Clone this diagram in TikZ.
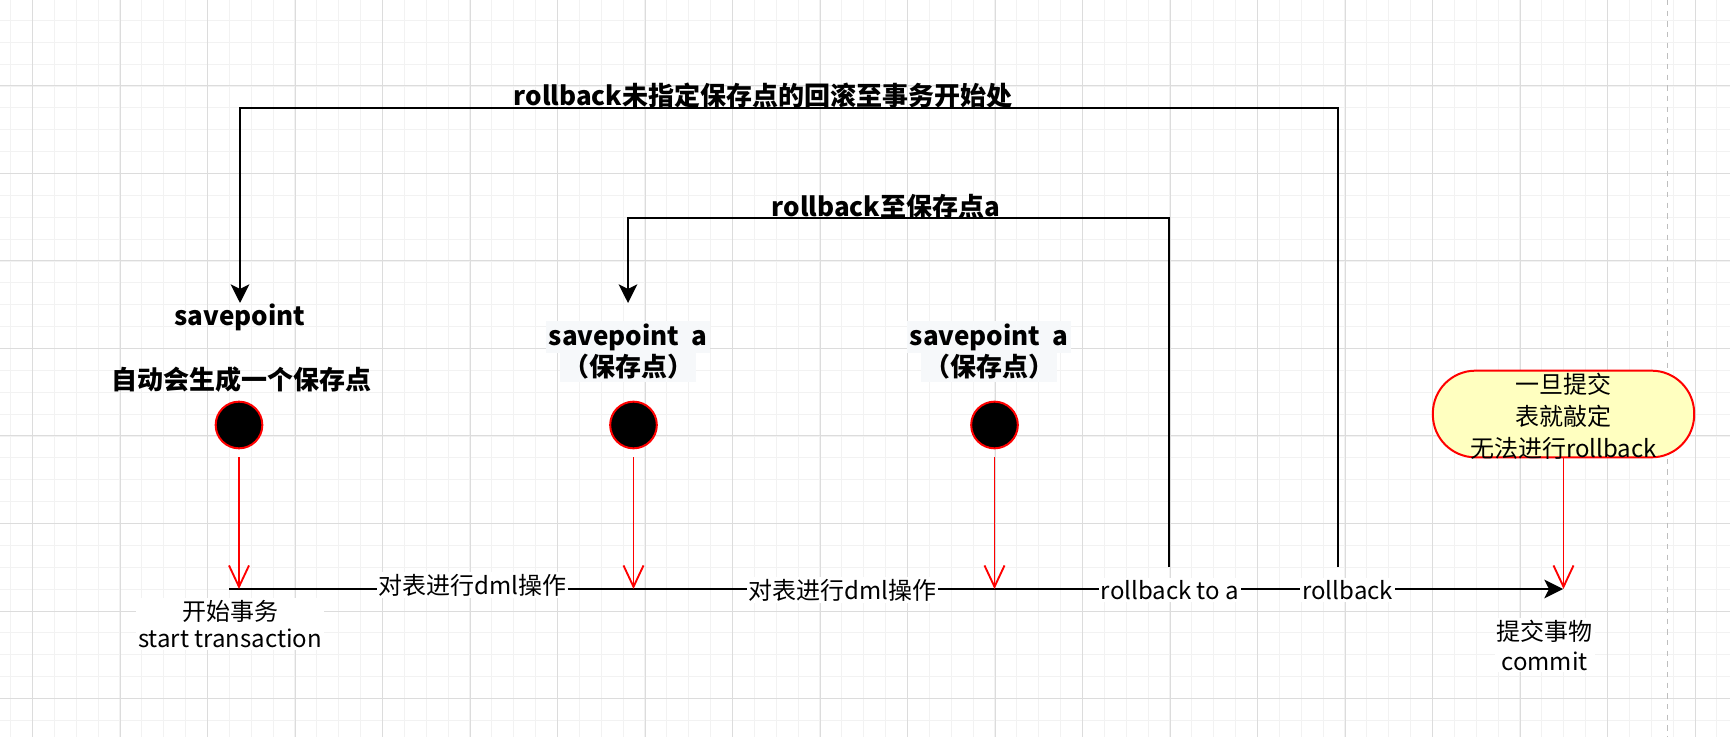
\documentclass[tikz,border=0pt]{standalone}
\usepackage{fontspec}
\setmainfont{Noto Sans CJK SC}
\usetikzlibrary{arrows.meta,calc}
\definecolor{gridmajor}{RGB}{220,220,220}
\definecolor{gridminor}{RGB}{242,242,242}
\definecolor{notefill}{RGB}{255,255,192}
\definecolor{labelbg}{RGB}{246,248,250}
\definecolor{pagedash}{RGB}{190,190,190}
\begin{document}
\begin{tikzpicture}[x=0.75pt,y=-0.75pt,
  dot/.style={circle, fill=black, draw=red, line width=1.5pt, minimum size=35pt, inner sep=0pt},
  note/.style={draw=red, fill=notefill, line width=1.5pt, rounded corners=32pt, minimum width=196pt, minimum height=65pt, inner sep=0pt},
  notetext/.style={align=center, inner sep=0pt, font=\fontsize{18}{24}\selectfont},
  flow/.style={draw=black, line width=1.5pt},
  blackhead/.style={-{Stealth[length=14pt,width=14pt,inset=3.5pt]}},
  redarrow/.style={draw=red, line width=1.4pt, -{Straight Barb[length=16pt,width=15pt,line width=1.4pt]}},
  lab/.style={fill=white, inner sep=1.5pt, font=\fontsize{18}{20}\selectfont},
  blab/.style={inner sep=1pt, font=\bfseries\fontsize{19.5}{24}\selectfont},
  bgblab/.style={blab, fill=labelbg, inner sep=2pt}
]
\fill[white] (0,0) rectangle (1730,737);
\useasboundingbox (0,0) rectangle (1730,737);
% grid
\foreach \i in {0,...,78} \draw[gridminor, line width=0.75pt] ({10.6+21.875*\i},0) -- ({10.6+21.875*\i},737);
\foreach \j in {0,...,32} \draw[gridminor, line width=0.75pt] (0,{20.4+21.875*\j}) -- (1730,{20.4+21.875*\j});
\foreach \i in {0,...,19} \draw[gridmajor, line width=0.75pt] ({32.5+87.5*\i},0) -- ({32.5+87.5*\i},737);
\foreach \j in {1,...,8} \draw[gridmajor, line width=0.75pt] (0,{-1.5+87.5*\j}) -- (1730,{-1.5+87.5*\j});
\draw[pagedash, line width=0.75pt, dash pattern=on 4pt off 4pt] (1667,0) -- (1667,737);

% savepoint circles and note
\node[dot] (c1) at (239,425) {};
\node[dot] (c2) at (633.5,425) {};
\node[dot] (c3) at (994.5,425) {};
\node[note] (box) at (1563.5,414) {};
\node[notetext] (boxtext) at (1563.5,416) {一旦提交\\表就敲定\\无法进行rollback};

% main timeline
\coordinate (start) at (229,589);
\coordinate (commit) at (1563,589);
\draw[flow, blackhead] (start) -- (commit);

% red arrows
\draw[redarrow, shorten <=6pt] (c1) -- (c1 |- start);
\draw[redarrow, shorten <=6pt] (c2) -- (c2 |- start);
\draw[redarrow, shorten <=6pt] (c3) -- (c3 |- start);
\draw[redarrow] (box) -- (box |- commit);

% rollback loops
\coordinate (rbtop) at (1338,567);
\coordinate (rbatop) at (1169,567);
\coordinate (sp0tip) at (240,303);
\coordinate (sp1tip) at (628,303);
\draw[flow, blackhead] (rbtop) -- (1338,108) -| (sp0tip);
\draw[flow, blackhead] (rbatop) -- (1169,218) -| (sp1tip);

% labels on main line
\node[lab] (op1) at (472.5,585) {对表进行dml操作};
\node[lab] (op2) at (842.5,590) {对表进行dml操作};
\node[lab] (rba) at (1170,590) {rollback to a};
\node[lab] (rb) at (1347.7,590) {rollback};
\node[lab, align=center, font=\fontsize{18}{20}\selectfont] (begin) at (230,624) {开始事务\\start transaction};
\node[lab, align=center, font=\fontsize{18}{22.5}\selectfont] (cm) at (1544.5,645) {提交事物\\commit};

% bold labels
\node[blab] (lbl1) at (763,96) {rollback未指定保存点的回滚至事务开始处};
\node[blab] (lbl2) at (886,207) {rollback至保存点a};
\node[blab] (sp0) at (240,317) {savepoint};
\node[blab] (auto) at (241,380) {自动会生成一个保存点};
\node[bgblab] (sp1) at (628,337) {savepoint~~a};
\node[bgblab] (sp1b) at (628,367) {（保存点）};
\node[bgblab] (sp2) at (989,337) {savepoint~~a};
\node[bgblab] (sp2b) at (989,367) {（保存点）};
\end{tikzpicture}
\end{document}
